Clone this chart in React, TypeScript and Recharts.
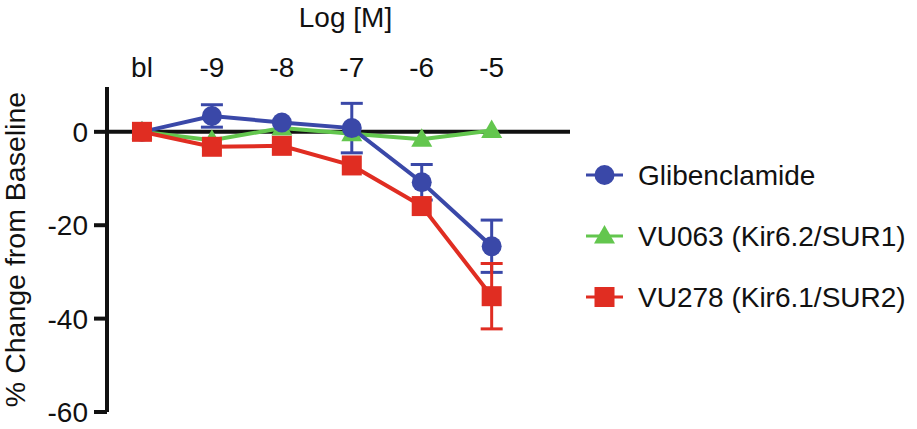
import { LineChart, Line, XAxis, YAxis, ReferenceLine, ErrorBar } from 'recharts';

const FONT = '"Liberation Sans", Arial, Helvetica, sans-serif';

const categories = ['bl', '-9', '-8', '-7', '-6', '-5'];
const yTicks = [0, -20, -40, -60];

const glibenclamide = [0, 3.4, 2.0, 0.8, -10.8, -24.5];
const glibenclamideErr = [0, 2.4, 0, 5.3, 3.8, 5.6];
const vu063 = [0, -1.8, 0.8, -0.4, -1.6, 0.3];
const vu278 = [0, -3.2, -3.0, -7.2, -15.9, -35.2];
const vu278Err = [0, 0, 0, 0, 0, 7.0];

const BLUE = '#3a48a8';
const GREEN = '#63c64e';
const RED = '#e02d22';

const chartData = categories.map((cat, i) => ({
  x: i,
  cat,
  glib: glibenclamide[i],
  glibErr: glibenclamideErr[i],
  vu063: vu063[i],
  vu278: vu278[i],
  vu278Err: vu278Err[i],
}));

const series = [
  { key: 'glib', name: 'Glibenclamide', color: BLUE, shape: 'circle' },
  { key: 'vu063', name: 'VU063 (Kir6.2/SUR1)', color: GREEN, shape: 'triangle' },
  { key: 'vu278', name: 'VU278 (Kir6.1/SUR2)', color: RED, shape: 'square' },
];

function Marker({ shape, cx, cy, color }: { shape: string; cx: number; cy: number; color: string }) {
  if (shape === 'circle') return <circle cx={cx} cy={cy} r={10} fill={color} />;
  if (shape === 'square') return <rect x={cx - 10} y={cy - 10} width={20} height={20} fill={color} />;
  return <polygon points={`${cx},${cy - 11} ${cx + 10.5},${cy + 7.5} ${cx - 10.5},${cy + 7.5}`} fill={color} />;
}

const makeDot = (shape: string, color: string) => (props: any) => {
  const { cx, cy, index } = props;
  if (cx == null || cy == null) return <g key={`d-${shape}-${index}`} />;
  return <Marker key={`d-${shape}-${index}`} shape={shape} cx={cx} cy={cy} color={color} />;
};

function ChartLegend() {
  return (
    <svg width={337} height={190} style={{ position: 'absolute', left: 580, top: 145, display: 'block' }}>
      {series.map((s, i) => {
        const cy = 30 + i * 61;
        return (
          <g key={s.key}>
            <line x1={6} x2={43} y1={cy} y2={cy} stroke={s.color} strokeWidth={3} />
            <Marker shape={s.shape} cx={24.5} cy={cy} color={s.color} />
            <text x={58} y={cy + 10} fontSize={28} fontFamily={FONT} fill="#111">
              {s.name}
            </text>
          </g>
        );
      })}
    </svg>
  );
}

export default function App() {
  return (
    <div style={{ position: 'absolute', left: 0, top: 0, width: 917, height: 429, background: '#fff', fontFamily: FONT }}>
      <LineChart width={917} height={429} data={chartData} margin={{ top: 37, right: 347, bottom: 17, left: 0 }}>
        <XAxis
          dataKey="x"
          type="number"
          orientation="top"
          domain={[-0.5, 6.12]}
          ticks={[0, 1, 2, 3, 4, 5]}
          tickFormatter={(v: number) => categories[v] ?? ''}
          allowDataOverflow
          height={50}
          axisLine={false}
          tickLine={false}
          tickSize={0}
          tickMargin={10}
          tick={{ fill: '#111', fontSize: 28, fontFamily: FONT }}
          label={{ value: 'Log [M]', position: 'top', offset: 10, dx: 7, fill: '#111', fontSize: 28, fontFamily: FONT }}
        />
        <YAxis
          type="number"
          width={107}
          domain={[-60, 9.6]}
          ticks={yTicks}
          allowDataOverflow
          tickSize={13}
          tickMargin={6}
          axisLine={{ stroke: '#111', strokeWidth: 4 }}
          tickLine={{ stroke: '#111', strokeWidth: 4 }}
          tick={{ fill: '#111', fontSize: 28, fontFamily: FONT }}
          label={{
            value: '% Change from Baseline',
            angle: -90,
            position: 'insideLeft',
            offset: 15,
            fill: '#111',
            fontSize: 28.5,
            fontFamily: FONT,
            style: { textAnchor: 'middle' },
          }}
        />
        <ReferenceLine y={0} stroke="#111" strokeWidth={4} />
        <Line
          dataKey="vu063"
          name="VU063 (Kir6.2/SUR1)"
          stroke={GREEN}
          strokeWidth={4}
          dot={makeDot('triangle', GREEN)}
          activeDot={false}
          isAnimationActive={false}
        />
        <Line
          dataKey="glib"
          name="Glibenclamide"
          stroke={BLUE}
          strokeWidth={4}
          dot={makeDot('circle', BLUE)}
          activeDot={false}
          isAnimationActive={false}
        >
          <ErrorBar dataKey="glibErr" direction="y" width={11} stroke={BLUE} strokeWidth={3} isAnimationActive={false} />
        </Line>
        <Line
          dataKey="vu278"
          name="VU278 (Kir6.1/SUR2)"
          stroke={RED}
          strokeWidth={4}
          dot={makeDot('square', RED)}
          activeDot={false}
          isAnimationActive={false}
        >
          <ErrorBar dataKey="vu278Err" direction="y" width={11} stroke={RED} strokeWidth={3} isAnimationActive={false} />
        </Line>
      </LineChart>
      <ChartLegend />
    </div>
  );
}
